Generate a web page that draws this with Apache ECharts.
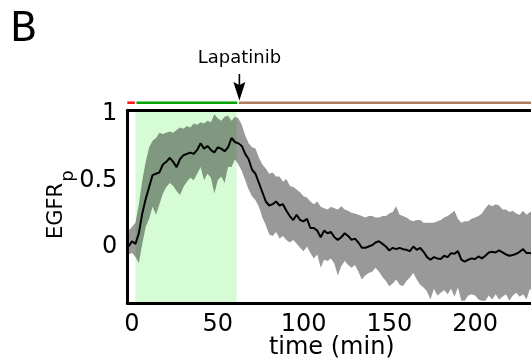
<!DOCTYPE html>
<html>
<head>
<meta charset="utf-8">
<script src="https://cdn.jsdelivr.net/npm/echarts@6/dist/echarts.min.js"></script>
<style>
html,body{margin:0;padding:0;background:#fff;overflow:hidden;}
#chart{width:560px;height:360px;}
</style>
</head>
<body>
<div id="chart"></div>
<script>
// ---------------- data ----------------
const times = [-2,0,2,4,6,8,10,12,14,16,18,20,22,24,26,28,30,32,34,36,38,40,42,44,46,48,50,52,54,56,58,60,62,64,66,68,70,72,74,76,78,80,82,84,86,88,90,92,94,96,98,100,102,104,106,108,110,112,114,116,118,120,122,124,126,128,130,132,134,136,138,140,142,144,146,148,150,152,154,156,158,160,162,164,166,168,170,172,174,176,178,180,182,184,186,188,190,192,194,196,198,200,202,204,206,208,210,212,214,216,218,220,222,224,226,228,230,232,234,236,238,240];
const meanVals = [0.00,0.04,0.02,0.10,0.25,0.36,0.45,0.54,0.55,0.56,0.62,0.64,0.67,0.64,0.60,0.66,0.69,0.70,0.71,0.70,0.73,0.78,0.74,0.76,0.73,0.71,0.75,0.74,0.72,0.75,0.82,0.79,0.78,0.76,0.70,0.66,0.58,0.55,0.48,0.41,0.34,0.31,0.32,0.34,0.31,0.32,0.27,0.23,0.20,0.24,0.20,0.19,0.21,0.14,0.14,0.12,0.07,0.12,0.10,0.11,0.07,0.05,0.07,0.10,0.08,0.05,0.06,0.03,-0.01,-0.01,0.00,0.01,0.03,0.04,0.02,0.00,-0.03,-0.01,-0.02,-0.01,-0.02,-0.025,-0.035,0.00,-0.025,-0.01,-0.04,-0.08,-0.10,-0.08,-0.09,-0.095,-0.07,-0.08,-0.05,-0.055,-0.035,-0.10,-0.115,-0.10,-0.09,-0.095,-0.075,-0.09,-0.07,-0.045,-0.04,-0.045,-0.03,-0.045,-0.06,-0.07,-0.065,-0.055,-0.04,-0.02,-0.05,-0.05,-0.055,-0.05,-0.055,-0.05];
const upperVals = [0.12,0.15,0.18,0.32,0.50,0.64,0.75,0.80,0.82,0.86,0.85,0.86,0.87,0.86,0.88,0.90,0.89,0.91,0.90,0.93,0.92,0.94,0.93,0.95,0.94,1.00,0.97,0.95,0.98,0.99,0.95,0.98,0.97,0.92,0.84,0.78,0.75,0.74,0.67,0.62,0.59,0.55,0.56,0.53,0.53,0.49,0.51,0.46,0.45,0.43,0.41,0.38,0.37,0.34,0.32,0.34,0.30,0.29,0.28,0.30,0.29,0.28,0.305,0.28,0.27,0.255,0.25,0.24,0.23,0.22,0.23,0.23,0.22,0.22,0.23,0.23,0.25,0.26,0.305,0.24,0.23,0.22,0.20,0.19,0.20,0.20,0.18,0.18,0.18,0.18,0.19,0.20,0.22,0.23,0.25,0.27,0.21,0.18,0.19,0.19,0.21,0.22,0.23,0.25,0.29,0.32,0.305,0.32,0.31,0.28,0.28,0.26,0.27,0.25,0.24,0.27,0.24,0.26,0.27,0.26,0.27,0.26];
const lowerVals = [-0.06,-0.05,-0.08,-0.125,0.02,0.15,0.21,0.30,0.24,0.32,0.40,0.45,0.48,0.46,0.42,0.39,0.45,0.49,0.52,0.50,0.55,0.60,0.50,0.55,0.52,0.40,0.50,0.53,0.48,0.60,0.60,0.66,0.62,0.57,0.50,0.43,0.38,0.35,0.30,0.22,0.16,0.09,0.08,0.11,0.06,0.08,0.05,0.03,0.05,0.02,-0.01,-0.035,0.00,-0.05,-0.09,-0.06,-0.16,-0.10,-0.11,-0.09,-0.13,-0.22,-0.15,-0.11,-0.14,-0.16,-0.14,-0.19,-0.25,-0.22,-0.20,-0.19,-0.16,-0.19,-0.23,-0.26,-0.30,-0.28,-0.25,-0.29,-0.30,-0.26,-0.235,-0.20,-0.25,-0.29,-0.31,-0.34,-0.40,-0.32,-0.37,-0.35,-0.33,-0.36,-0.32,-0.38,-0.31,-0.41,-0.41,-0.37,-0.36,-0.37,-0.40,-0.41,-0.41,-0.37,-0.40,-0.36,-0.40,-0.38,-0.36,-0.41,-0.37,-0.35,-0.38,-0.36,-0.40,-0.32,-0.35,-0.37,-0.36,-0.38];
const xTicks = [0, 50, 100, 150, 200];
const yTicks = [0, 0.5, 1];
const stimWindow = [2, 61];            // EGF stimulation shading (min)
const phaseStarts = [-2.74, 2.6, 62.4]; // treatment bar segments (min)
const phaseEnds = [1.7, 61.4, 240];
const drugTime = 62.6;
const drugName = 'Lapatinib';
const panelLabel = 'B';
const xTitle = 'time (min)';
const yTitleMain = 'EGFR';
const yTitleSub = 'p';

// ---------------- styles ----------------
const FONT = 'DejaVu Sans';
const phaseColors = ['#ff1a1a', '#00a400', '#b07a5c'];
const X_MIN = -2.74, X_MAX = 235.7, Y_MIN = -0.4255, Y_MAX = 1.028;
const GRID_LEFT = 127.3, GRID_TOP = 110.5;

const chart = echarts.init(document.getElementById('chart'), null, {renderer: 'canvas'});

const axisCommon = {
  axisTick: {show: false},
  splitLine: {show: false},
  axisLine: {show: true, onZero: false, lineStyle: {color: '#000', width: 3}},
  z: 10
};

chart.setOption({
  animation: false,
  backgroundColor: '#fff',
  grid: {left: GRID_LEFT, top: GRID_TOP, width: 409, height: 192.3, containLabel: false, outerBoundsMode: 'none'},
  xAxis: [
    Object.assign({}, axisCommon, {
      type: 'value', min: X_MIN, max: X_MAX, position: 'bottom',
      axisLabel: {customValues: xTicks, color: '#000', fontFamily: FONT, fontSize: 24, margin: 10},
      name: xTitle, nameLocation: 'middle', nameGap: 33, nameMoveOverlap: false,
      nameTextStyle: {color: '#000', fontFamily: FONT, fontSize: 24}
    }),
    Object.assign({}, axisCommon, {
      type: 'value', min: X_MIN, max: X_MAX, position: 'top',
      axisLabel: {show: false}
    })
  ],
  yAxis: [
    Object.assign({}, axisCommon, {
      type: 'value', min: Y_MIN, max: Y_MAX, position: 'left',
      axisLabel: {customValues: yTicks, color: '#000', fontFamily: FONT, fontSize: 24, margin: 10,
        formatter: v => String(v)}
    }),
    Object.assign({}, axisCommon, {
      type: 'value', min: Y_MIN, max: Y_MAX, position: 'right',
      axisLabel: {show: false}
    })
  ],
  series: [
    {
      type: 'custom', z: 1, silent: true,
      data: [[stimWindow[0], stimWindow[1]]],
      renderItem: function (params, api) {
        const p0 = api.coord([api.value(0), Y_MAX]);
        const p1 = api.coord([api.value(1), Y_MIN]);
        return {type: 'rect', shape: {x: p0[0], y: p0[1], width: p1[0] - p0[0], height: p1[1] - p0[1]},
          style: {fill: '#d6fcd6'}};
      }
    },
    {
      type: 'custom', z: 2, silent: true,
      data: [[times[0], meanVals[0]]],
      renderItem: function (params, api) {
        const pts = [];
        for (let i = 0; i < times.length; i++) pts.push(api.coord([times[i], upperVals[i]]));
        for (let i = times.length - 1; i >= 0; i--) pts.push(api.coord([times[i], lowerVals[i]]));
        const cs = params.coordSys;
        return {type: 'polygon', shape: {points: pts}, style: {fill: 'rgba(0,0,0,0.4)'},
          clipPath: {type: 'rect', shape: {x: cs.x, y: cs.y, width: cs.width, height: cs.height}}};
      }
    },
    {
      type: 'line', z: 3, silent: true, symbol: 'none', clip: true,
      data: times.map((t, i) => [t, meanVals[i]]),
      lineStyle: {color: '#000', width: 2}
    }
  ]
});

function drawExtras() {
  const barY = GRID_TOP - 7.8;
  const g = [];
  for (let i = 0; i < phaseStarts.length; i++) {
    const x0 = chart.convertToPixel({xAxisIndex: 0}, phaseStarts[i]);
    const x1 = chart.convertToPixel({xAxisIndex: 0}, phaseEnds[i]);
    g.push({type: 'line', shape: {x1: x0, y1: barY, x2: x1, y2: barY},
      style: {stroke: phaseColors[i], lineWidth: 2.6}, z: 20});
  }
  const ax = chart.convertToPixel({xAxisIndex: 0}, drugTime);
  g.push({type: 'line', shape: {x1: ax, y1: 74, x2: ax, y2: 87}, style: {stroke: '#000', lineWidth: 1.6}, z: 20});
  g.push({type: 'polygon', shape: {points: [[ax - 6, 82], [ax, 85], [ax + 6, 82], [ax, 100.5]]},
    style: {fill: '#000'}, z: 20});
  g.push({type: 'text', x: ax, y: 58.5, z: 20,
    style: {text: drugName, fill: '#000', font: '18px "' + FONT + '"', align: 'center', verticalAlign: 'middle'}});
  g.push({type: 'text', x: 10, y: 31, z: 20,
    style: {text: panelLabel, fill: '#000', font: '40px "' + FONT + '"', align: 'left', verticalAlign: 'middle'}});
  g.push({type: 'text', x: 57, y: 211, rotation: Math.PI / 2, z: 20,
    style: {text: yTitleMain, fill: '#000', font: '21px "' + FONT + '"', align: 'center', verticalAlign: 'middle'}});
  g.push({type: 'text', x: 68, y: 176, rotation: Math.PI / 2, z: 20,
    style: {text: yTitleSub, fill: '#000', font: '18px "' + FONT + '"', align: 'center', verticalAlign: 'middle'}});
  chart.setOption({graphic: g});
}
drawExtras();
</script>
</body>
</html>
